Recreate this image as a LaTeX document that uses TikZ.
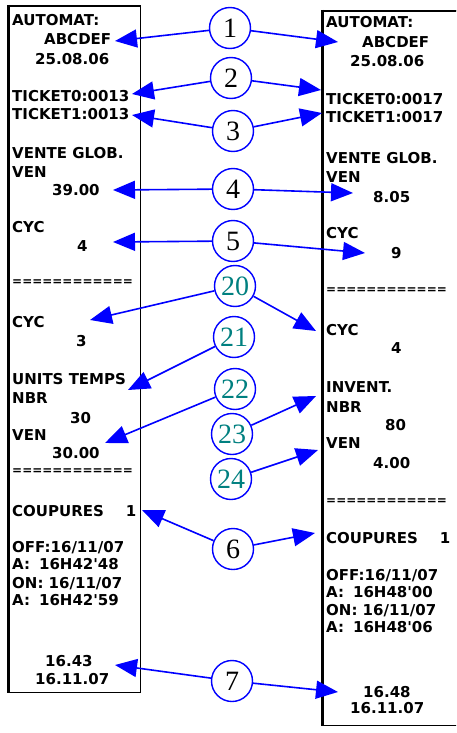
\documentclass[tikz,border=0pt]{standalone}
\usepackage{fontspec}
\usetikzlibrary{arrows.meta}
\newfontfamily\rcptfont{DejaVu Sans}
\newfontfamily\numfont{Liberation Serif}
\definecolor{arrblue}{RGB}{0,0,255}
\definecolor{numteal}{RGB}{0,128,128}
\tikzset{
  rtxt/.style={anchor=base west, inner sep=0pt, font=\rcptfont\bfseries\fontsize{15}{15}\selectfont},
  eqline/.style={anchor=west, inner sep=0pt, font=\rcptfont\bfseries\fontsize{12}{12}\selectfont},
  numcirc/.style={circle, draw=arrblue, line width=1.4pt, minimum size=41pt, inner sep=0pt, fill=white, font=\numfont\fontsize{28}{28}\selectfont},
  tealnum/.style={numcirc, text=numteal},
  arr/.style={draw=arrblue, line width=1.6pt, -{Triangle[length=22pt,width=18pt]}, arrblue},
  ticketbox/.style={draw=black, line width=1pt}
}
\begin{document}
\begin{tikzpicture}[x=1pt,y=-1pt]
\useasboundingbox (0,0) rectangle (456,733);
\clip (0,0) rectangle (456,733);
\fill[white] (0,0) rectangle (456,733);
% ticket boxes
\draw[ticketbox] (8.5,6) rectangle (140,692);
\draw[line width=3pt] (8.5,5) -- (8.5,692.5);
\draw[line width=2pt] (7,6) -- (140.5,6);
\draw[ticketbox] (322.5,11) rectangle (462,725);
\draw[line width=3pt] (322.5,10) -- (322.5,725.5);
\draw[line width=2pt] (321,11) -- (462,11);
% left ticket text
\node[rtxt] (l1) at (12,26) {AUTOMAT:};
\node[rtxt] (l2) at (44,45) {ABCDEF};
\node[rtxt] (l3) at (35,65) {25.08.06};
\node[rtxt] (l4) at (12,102) {TICKET0:0013};
\node[rtxt] (l5) at (12,120) {TICKET1:0013};
\node[rtxt] (l6) at (12,158) {VENTE GLOB.};
\node[rtxt] (l7) at (12,177) {VEN};
\node[rtxt] (l8) at (52,195) {39.00};
\node[rtxt] (l9) at (12,232) {CYC};
\node[rtxt] (l10) at (77,251) {4};
\node[eqline] (l11) at (12,283) {============};
\node[rtxt] (l12) at (12,327) {CYC};
\node[rtxt] (l13) at (76,346) {3};
\node[rtxt] (l14) at (12,384) {UNITS TEMPS};
\node[rtxt] (l15) at (12,403) {NBR};
\node[rtxt] (l16) at (70,423) {30};
\node[rtxt] (l17) at (12,440) {VEN};
\node[rtxt] (l18) at (52,458) {30.00};
\node[eqline] (l19) at (12,472) {============};
\node[rtxt] (l20) at (12,516) {COUPURES\hspace{22pt}1};
\node[rtxt] (l21) at (12,552) {OFF:16/11/07};
\node[rtxt] (l22) at (12,569) {A:\hspace{9pt}16H42\textquotesingle 48};
\node[rtxt] (l23) at (12,588) {ON: 16/11/07};
\node[rtxt] (l24) at (12,605) {A:\hspace{9pt}16H42\textquotesingle 59};
\node[rtxt] (l25) at (45,666) {16.43};
\node[rtxt] (l26) at (35,684) {16.11.07};
% right ticket text
\node[rtxt] (r1) at (326,28) {AUTOMAT:};
\node[rtxt] (r2) at (362,48) {ABCDEF};
\node[rtxt] (r3) at (350,67) {25.08.06};
\node[rtxt] (r4) at (326,105) {TICKET0:0017};
\node[rtxt] (r5) at (326,123) {TICKET1:0017};
\node[rtxt] (r6) at (326,163) {VENTE GLOB.};
\node[rtxt] (r7) at (326,182) {VEN};
\node[rtxt] (r8) at (373,202) {8.05};
\node[rtxt] (r9) at (326,238) {CYC};
\node[rtxt] (r10) at (391,258) {9};
\node[eqline] (r11) at (326,291) {============};
\node[rtxt] (r12) at (326,335) {CYC};
\node[rtxt] (r13) at (391,353) {4};
\node[rtxt] (r14) at (326,392) {INVENT.};
\node[rtxt] (r15) at (326,412) {NBR};
\node[rtxt] (r16) at (385,430) {80};
\node[rtxt] (r17) at (326,448) {VEN};
\node[rtxt] (r18) at (373,468) {4.00};
\node[eqline] (r19) at (326,502) {============};
\node[rtxt] (r20) at (326,543) {COUPURES\hspace{22pt}1};
\node[rtxt] (r21) at (326,580) {OFF:16/11/07};
\node[rtxt] (r22) at (326,597) {A:\hspace{9pt}16H48\textquotesingle 00};
\node[rtxt] (r23) at (326,615) {ON: 16/11/07};
\node[rtxt] (r24) at (326,632) {A:\hspace{9pt}16H48\textquotesingle 06};
\node[rtxt] (r25) at (363,697) {16.48};
\node[rtxt] (r26) at (350,713) {16.11.07};
% arrow tips
\coordinate (t1l) at (115,41);
\coordinate (t1r) at (338,42);
\coordinate (t2l) at (132,94);
\coordinate (t2r) at (321,90);
\coordinate (t3l) at (132,115);
\coordinate (t3r) at (322,113);
\coordinate (t4l) at (113,190);
\coordinate (t4r) at (353,193);
\coordinate (t5l) at (113,242);
\coordinate (t5r) at (365,253);
\coordinate (t20l) at (90,320);
\coordinate (t20r) at (316,331);
\coordinate (t21l) at (128,390);
\coordinate (t22l) at (105,443);
\coordinate (t23r) at (316,396);
\coordinate (t24r) at (318,450);
\coordinate (t6l) at (142,510);
\coordinate (t6r) at (315,533);
\coordinate (t7l) at (115,665);
\coordinate (t7r) at (338,692);
% number circles
\node[numcirc] (c1) at (230,28) {1};
\node[numcirc] (c2) at (231,78) {2};
\node[numcirc] (c3) at (233,131) {3};
\node[numcirc] (c4) at (233,189) {4};
\node[numcirc] (c5) at (233,241) {5};
\node[tealnum] (c20) at (235,286) {20};
\node[tealnum] (c21) at (234,337) {21};
\node[tealnum] (c22) at (235,389) {22};
\node[tealnum] (c23) at (232,434) {23};
\node[tealnum] (c24) at (231,479) {24};
\node[numcirc] (c6) at (233,549) {6};
\node[numcirc] (c7) at (232,681) {7};
% connectors
\draw[arr] (c1) -- (t1l);
\draw[arr] (c1) -- (t1r);
\draw[arr] (c2) -- (t2l);
\draw[arr] (c2) -- (t2r);
\draw[arr] (c3) -- (t3l);
\draw[arr] (c3) -- (t3r);
\draw[arr] (c4) -- (t4l);
\draw[arr] (c4) -- (t4r);
\draw[arr] (c5) -- (t5l);
\draw[arr] (c5) -- (t5r);
\draw[arr] (c20) -- (t20l);
\draw[arr] (c20) -- (t20r);
\draw[arr] (c21) -- (t21l);
\draw[arr] (c22) -- (t22l);
\draw[arr] (c23) -- (t23r);
\draw[arr] (c24) -- (t24r);
\draw[arr] (c6) -- (t6l);
\draw[arr] (c6) -- (t6r);
\draw[arr] (c7) -- (t7l);
\draw[arr] (c7) -- (t7r);
\end{tikzpicture}
\end{document}
